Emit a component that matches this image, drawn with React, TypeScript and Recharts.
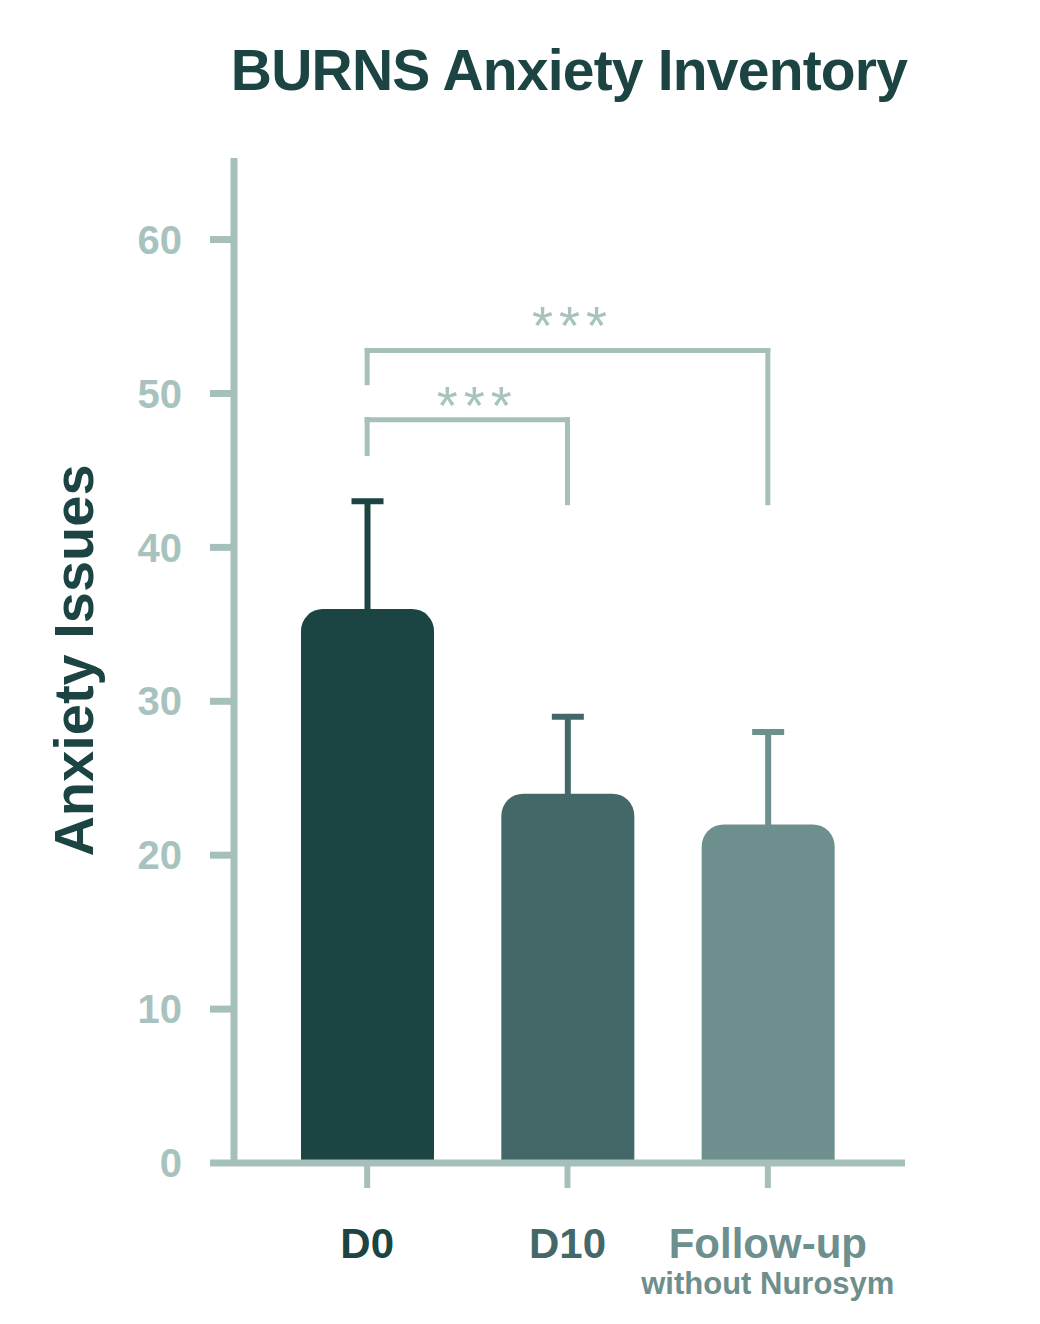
import React from 'react';
import { BarChart, Bar, XAxis, YAxis, Cell, ErrorBar, ReferenceLine } from 'recharts';

// values
const categories = ['D0', 'D10', 'Follow-up'];
const subLabels = ['', '', 'without Nurosym'];
const means = [36, 24, 22];
const sds = [7, 5, 6];
const yTicks = [0, 10, 20, 30, 40, 50, 60];

// significance brackets: horizontal height, left leg end, right leg end (data units)
const brackets = [
  { from: 'D0', to: 'D10', top: 48.3, leftEnd: 46.1, rightEnd: 42.9, text: '***' },
  { from: 'D0', to: 'Follow-up', top: 52.8, leftEnd: 50.7, rightEnd: 42.9, text: '***' },
];

const barColors = ['#1b4443', '#436867', '#6d8f8d'];
const axisColor = '#a5bfbb';
const tickTextColor = '#a8c3bf';
const font = '"Liberation Sans", Arial, sans-serif';

const errorKeys = categories.map((_, i) => `err${i}`);

// the lower half of each SD bar sits inside its own bar, so only the upper half shows
const chartData = categories.map((name, i) => ({
  name,
  mean: means[i],
  [errorKeys[i]]: sds[i],
}));

function CategoryTick(props: any) {
  const { x, y, payload, index } = props;
  const color = barColors[index] ?? barColors[0];
  return (
    <g>
      <text x={x} y={y + 68} textAnchor="middle" fill={color} fontSize={42} fontWeight="bold" fontFamily={font}>
        {payload.value}
      </text>
      {subLabels[index] ? (
        <text x={x} y={y + 104} textAnchor="middle" fill={color} fontSize={31} fontWeight="bold" fontFamily={font}>
          {subLabels[index]}
        </text>
      ) : null}
    </g>
  );
}

export default function App() {
  return (
    <div style={{ position: 'absolute', left: 0, top: 0, width: 1040, height: 1324, background: '#fff', fontFamily: font }}>
      <div
        style={{
          position: 'absolute',
          left: 169,
          top: 42,
          width: 800,
          textAlign: 'center',
          fontSize: 57,
          lineHeight: 1,
          fontWeight: 'bold',
          color: '#1b4443',
          letterSpacing: -0.8,
        }}
      >
        BURNS Anxiety Inventory
      </div>
      <BarChart
        width={1040}
        height={1324}
        data={chartData}
        margin={{ top: 158, right: 135, bottom: 0, left: 0 }}
        barSize={133}
      >
        <XAxis
          dataKey="name"
          height={161}
          padding={{ left: 33, right: 37 }}
          axisLine={{ stroke: axisColor, strokeWidth: 7 }}
          tickLine={{ stroke: axisColor, strokeWidth: 6 }}
          tickSize={25}
          tick={<CategoryTick />}
          interval={0}
        />
        <YAxis
          width={234}
          domain={[0, 65.3]}
          ticks={yTicks}
          allowDataOverflow
          axisLine={{ stroke: axisColor, strokeWidth: 7 }}
          tickLine={{ stroke: axisColor, strokeWidth: 7 }}
          tickSize={24}
          tickMargin={28}
          tick={{ fill: tickTextColor, fontSize: 40, fontWeight: 'bold', fontFamily: font }}
          label={{
            value: 'Anxiety Issues',
            angle: -90,
            position: 'center',
            dx: -44,
            fill: '#1b4443',
            fontSize: 56,
            fontWeight: 'bold',
            fontFamily: font,
          }}
        />
        <Bar dataKey="mean" radius={[22, 22, 0, 0]} isAnimationActive={false}>
          {chartData.map((d, i) => (
            <Cell key={d.name} fill={barColors[i]} />
          ))}
          {errorKeys.map((k, i) => (
            <ErrorBar
              key={k}
              dataKey={k}
              direction="y"
              width={16}
              stroke={barColors[i]}
              strokeWidth={6}
              isAnimationActive={false}
            />
          ))}
        </Bar>
        {brackets.map((b, i) => (
          <ReferenceLine
            key={`h${i}`}
            segment={[{ x: b.from, y: b.top }, { x: b.to, y: b.top }]}
            stroke={axisColor}
            strokeWidth={5}
            strokeLinecap="square"
            label={{
              value: b.text,
              position: 'top',
              offset: i === 0 ? -4 : 6,
              dx: i === 0 ? 10 : 5,
              fill: tickTextColor,
              fontSize: 54,
              fontFamily: font,
              letterSpacing: 6,
            }}
          />
        ))}
        {brackets.map((b, i) => (
          <ReferenceLine
            key={`l${i}`}
            segment={[{ x: b.from, y: b.top }, { x: b.from, y: b.leftEnd }]}
            stroke={axisColor}
            strokeWidth={5}
            strokeLinecap="square"
          />
        ))}
        {brackets.map((b, i) => (
          <ReferenceLine
            key={`r${i}`}
            segment={[{ x: b.to, y: b.top }, { x: b.to, y: b.rightEnd }]}
            stroke={axisColor}
            strokeWidth={5}
            strokeLinecap="square"
          />
        ))}
      </BarChart>
    </div>
  );
}
